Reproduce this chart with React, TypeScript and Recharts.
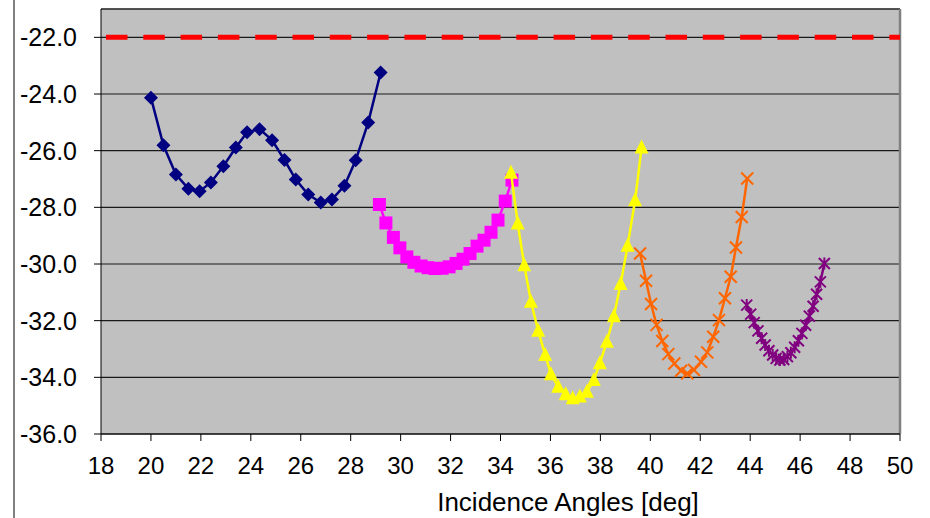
import { ScatterChart, Scatter, XAxis, YAxis, CartesianGrid, ReferenceLine } from "recharts";

// values
const navyX = [20.0, 20.5, 21.0, 21.5, 21.95, 22.4, 22.9, 23.4, 23.85, 24.35, 24.85, 25.35, 25.8, 26.3, 26.8, 27.25, 27.75, 28.2, 28.7, 29.2];
const navyY = [-24.13, -25.81, -26.84, -27.34, -27.43, -27.12, -26.55, -25.89, -25.35, -25.24, -25.63, -26.33, -27.02, -27.55, -27.83, -27.72, -27.24, -26.34, -25.01, -23.24];

const magentaX = [29.15, 29.41, 29.71, 29.97, 30.25, 30.53, 30.82, 31.1, 31.38, 31.66, 31.94, 32.22, 32.5, 32.78, 33.06, 33.34, 33.62, 33.9, 34.19, 34.46];
const magentaY = [-27.9, -28.55, -29.06, -29.43, -29.75, -29.94, -30.07, -30.13, -30.16, -30.15, -30.1, -29.98, -29.83, -29.63, -29.37, -29.16, -28.88, -28.45, -27.78, -27.04];

const yellowX = [34.42, 34.69, 34.95, 35.22, 35.51, 35.79, 36.02, 36.31, 36.61, 36.89, 37.18, 37.46, 37.74, 37.98, 38.26, 38.54, 38.81, 39.09, 39.39, 39.65];
const yellowY = [-26.78, -28.57, -30.04, -31.33, -32.36, -33.21, -33.89, -34.33, -34.6, -34.74, -34.68, -34.51, -34.09, -33.5, -32.74, -31.84, -30.71, -29.36, -27.75, -25.89];

const orangeX = [39.59, 39.83, 40.03, 40.25, 40.48, 40.72, 40.96, 41.23, 41.48, 41.75, 42.03, 42.28, 42.52, 42.75, 42.99, 43.22, 43.43, 43.66, 43.88];
const orangeY = [-29.63, -30.59, -31.41, -32.15, -32.72, -33.18, -33.51, -33.77, -33.86, -33.74, -33.45, -33.12, -32.57, -31.98, -31.21, -30.45, -29.42, -28.34, -26.98];

const purpleX = [43.86, 44.02, 44.16, 44.31, 44.46, 44.6, 44.75, 44.9, 45.04, 45.19, 45.34, 45.49, 45.63, 45.78, 45.93, 46.07, 46.22, 46.37, 46.52, 46.66, 46.81, 46.97];
const purpleY = [-31.45, -31.77, -32.07, -32.36, -32.62, -32.86, -33.06, -33.21, -33.33, -33.39, -33.37, -33.27, -33.13, -32.94, -32.71, -32.45, -32.16, -31.84, -31.49, -31.07, -30.63, -29.98];

const limitY = -22;

const xTicks = [18, 20, 22, 24, 26, 28, 30, 32, 34, 36, 38, 40, 42, 44, 46, 48, 50];
const yTicks = [-36, -34, -32, -30, -28, -26, -24, -22];

const zip = (xs: number[], ys: number[]) => xs.map((x, i) => ({ x, y: ys[i] }));

const FONT = "'Liberation Sans', Arial, sans-serif";

// marker drawing, one per series style
const Marker = ({ cx, cy, kind, color }: any) => {
  if (cx == null || cy == null) return null;
  switch (kind) {
    case "diamond":
      return <polygon points={`${cx},${cy - 7} ${cx + 7},${cy} ${cx},${cy + 7} ${cx - 7},${cy}`} fill={color} />;
    case "square":
      return <rect x={cx - 6.5} y={cy - 6.5} width={13} height={13} fill={color} />;
    case "triangle":
      return <polygon points={`${cx},${cy - 8} ${cx + 7},${cy + 6} ${cx - 7},${cy + 6}`} fill={color} />;
    case "x":
      return (
        <g stroke={color} strokeWidth={2}>
          <line x1={cx - 6} y1={cy - 6} x2={cx + 6} y2={cy + 6} />
          <line x1={cx - 6} y1={cy + 6} x2={cx + 6} y2={cy - 6} />
        </g>
      );
    default:
      return (
        <g stroke={color} strokeWidth={2}>
          <line x1={cx - 5.5} y1={cy - 5.5} x2={cx + 5.5} y2={cy + 5.5} />
          <line x1={cx - 5.5} y1={cy + 5.5} x2={cx + 5.5} y2={cy - 5.5} />
          <line x1={cx} y1={cy - 6} x2={cx} y2={cy + 6} />
        </g>
      );
  }
};

const series = [
  { name: "navy", data: zip(navyX, navyY), color: "#000080", kind: "diamond" },
  { name: "magenta", data: zip(magentaX, magentaY), color: "#FF00FF", kind: "square" },
  { name: "yellow", data: zip(yellowX, yellowY), color: "#FFFF00", kind: "triangle" },
  { name: "orange", data: zip(orangeX, orangeY), color: "#FF6600", kind: "x" },
  { name: "purple", data: zip(purpleX, purpleY), color: "#800080", kind: "star" },
];

export default function App() {
  return (
    <div style={{ position: "fixed", left: 0, top: 0, width: 930, height: 518, background: "#fff" }}>
      <div style={{ position: "absolute", left: 13, top: 0, width: 2, height: 518, background: "#808080" }} />
      <ScatterChart width={930} height={518} margin={{ top: 9, right: 30, bottom: 0, left: 0 }}>
        <CartesianGrid vertical={false} fill="#C0C0C0" stroke="#1a1a1a" strokeWidth={1.2} />
        <XAxis
          type="number"
          dataKey="x"
          domain={[18, 50]}
          ticks={xTicks}
          allowDataOverflow
          height={84}
          stroke="#000"
          tickSize={7}
          tickMargin={16}
          tick={{ fontSize: 24, fill: "#000", fontFamily: FONT }}
        />
        <YAxis
          type="number"
          dataKey="y"
          domain={[-36, -21]}
          ticks={yTicks}
          allowDataOverflow
          width={101}
          stroke="#000"
          tickSize={7}
          tickMargin={17}
          tickFormatter={(v: number) => v.toFixed(1)}
          tick={{ fontSize: 25, fill: "#000", fontFamily: FONT }}
        />
        <ReferenceLine y={-21} stroke="#404040" strokeWidth={1.5} />
        <ReferenceLine x={50} stroke="#808080" strokeWidth={2.5} />
        <ReferenceLine
          y={limitY}
          stroke="#FF0000"
          strokeWidth={5}
          strokeDasharray="21.5 15.8"
          strokeDashoffset={32.3}
        />
        {series.map((s) => (
          <Scatter
            key={s.name}
            data={s.data}
            line={{ stroke: s.color, strokeWidth: 2.5 }}
            lineType="joint"
            isAnimationActive={false}
            shape={(p: any) => <Marker {...p} kind={s.kind} color={s.color} />}
          />
        ))}
        <text x={568} y={511} textAnchor="middle" fontSize={26} fontFamily={FONT} fill="#000">
          Incidence Angles [deg]
        </text>
      </ScatterChart>
    </div>
  );
}
